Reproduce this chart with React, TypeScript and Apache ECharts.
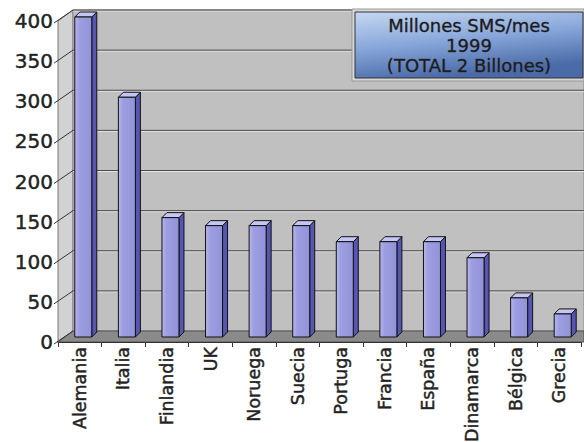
import React, { useEffect, useRef } from "react";
import * as echarts from "echarts";

const categories = ["Alemania", "Italia", "Finlandia", "UK", "Noruega", "Suecia", "Portuga", "Francia", "España", "Dinamarca", "Bélgica", "Grecia"];
const values = [400, 300, 150, 140, 140, 140, 120, 120, 120, 100, 50, 30];
const yTicks = [0, 50, 100, 150, 200, 250, 300, 350, 400];
const legendLines = ["Millones SMS/mes", "1999", "(TOTAL 2 Billones)"];

const DX = 15; // depth offset of back wall
const DY = -11;

export default function App() {
  const ref = useRef<HTMLDivElement>(null);
  useEffect(() => {
    const chart = echarts.init(ref.current!, null, { renderer: "svg" });
    const font = "DejaVu Sans";
    const option: any = {
      animation: false,
      backgroundColor: "#ffffff",
      grid: { left: 58, right: 3, top: 21, bottom: 100, containLabel: false, outerBoundsMode: "none" },
      xAxis: {
        type: "category",
        data: categories,
        axisLine: { show: true, lineStyle: { color: "#111", width: 1 } },
        axisTick: { show: true, length: 5, lineStyle: { color: "#333" } },
        axisLabel: {
          interval: 0, rotate: 90, margin: 5, fontFamily: font, fontSize: 17.5, color: "#222",
          textBorderColor: "#444", textBorderWidth: 0.5,
        },
        splitLine: { show: false },
      },
      yAxis: {
        type: "value",
        min: 0,
        max: 400,
        interval: 50,
        axisLine: { show: true, lineStyle: { color: "#555", width: 1 } },
        axisTick: { show: false },
        axisLabel: {
          margin: 5, fontFamily: font, fontSize: 20, color: "#222",
          textBorderColor: "#444", textBorderWidth: 0.5,
        },
        splitLine: { show: false },
      },
      series: [
        {
          type: "custom",
          clip: false,
          z: 1,
          silent: true,
          data: [[0, 0]],
          renderItem: (params: any, api: any) => {
            const cs = params.coordSys;
            const x0 = cs.x;
            const xr = api.getWidth();
            const yb = api.coord([0, 0])[1];
            const yt = api.coord([0, 400])[1];
            const children: any[] = [];
            children.push({
              type: "polygon",
              shape: { points: [[x0, yb], [x0, yt], [x0 + DX, yt + DY], [x0 + DX, yb + DY]] },
              style: { fill: "#d2d2d2", stroke: "#777", lineWidth: 1 },
            });
            children.push({
              type: "rect",
              shape: { x: x0 + DX, y: yt + DY, width: xr - x0 - DX, height: yb - yt },
              style: { fill: "#c0c0c0", stroke: "#888", lineWidth: 1 },
            });
            children.push({
              type: "polygon",
              shape: { points: [[x0, yb], [x0 + DX, yb + DY], [xr, yb + DY], [xr, yb]] },
              style: { fill: "#8a8a8a", stroke: "#555", lineWidth: 1 },
            });
            yTicks.forEach((t) => {
              const y = api.coord([0, t])[1];
              if (t > 0) {
                children.push({
                  type: "line",
                  shape: { x1: x0 + DX, y1: y + DY + 1, x2: xr, y2: y + DY + 1 },
                  style: { stroke: "#e6e6e6", lineWidth: 1 },
                });
                children.push({
                  type: "line",
                  shape: { x1: x0 + DX, y1: y + DY, x2: xr, y2: y + DY },
                  style: { stroke: "#4a4a4a", lineWidth: 1 },
                });
              }
              children.push({
                type: "line",
                shape: { x1: x0 - 4, y1: y + 2, x2: x0 + DX, y2: y + DY },
                style: { stroke: "#333", lineWidth: 1 },
              });
            });
            return { type: "group", children };
          },
        },
        {
          type: "custom",
          clip: false,
          z: 2,
          data: values.map((v, i) => [i, v]),
          renderItem: (params: any, api: any) => {
            const i = api.value(0);
            const v = api.value(1);
            const p = api.coord([i, v]);
            const b = api.coord([i, 0]);
            const w = 17;
            const d = 5;
            const x = b[0] - 5;
            const yTop = p[1] - 4;
            const yBot = b[1] - 5;
            return {
              type: "group",
              children: [
                {
                  type: "polygon",
                  shape: { points: [[x + w, yTop], [x + w + d, yTop - d], [x + w + d, yBot - d], [x + w, yBot]] },
                  style: { fill: "#5656b2", stroke: "#111", lineWidth: 1 },
                },
                {
                  type: "polygon",
                  shape: { points: [[x, yTop], [x + d, yTop - d], [x + w + d, yTop - d], [x + w, yTop]] },
                  style: { fill: "#c6c6f4", stroke: "#111", lineWidth: 1 },
                },
                {
                  type: "rect",
                  shape: { x, y: yTop, width: w, height: yBot - yTop },
                  style: {
                    fill: new echarts.graphic.LinearGradient(0, 0, 1, 0, [
                      { offset: 0, color: "#b8b8f0" },
                      { offset: 0.25, color: "#9e9ee2" },
                      { offset: 1, color: "#9292d8" },
                    ]),
                    stroke: "#111",
                    lineWidth: 1,
                  },
                },
              ],
            };
          },
        },
      ],
      graphic: [
        {
          type: "rect",
          z: 10,
          shape: { x: 352, y: 9, width: 232, height: 72 },
          style: { fill: "#d8d8d8", stroke: "#999", lineWidth: 1 },
        },
        {
          type: "rect",
          z: 11,
          shape: { x: 355, y: 12, width: 228, height: 66 },
          style: {
            fill: new echarts.graphic.LinearGradient(0, 0, 0.35, 1, [
              { offset: 0, color: "#c6d8f2" },
              { offset: 0.5, color: "#88a7da" },
              { offset: 1, color: "#4a6aa8" },
            ]),
            stroke: "#333",
            lineWidth: 1,
          },
        },
        {
          type: "text",
          z: 12,
          x: 469,
          y: 45,
          style: {
            text: legendLines.join("\n"),
            align: "center",
            verticalAlign: "middle",
            fontFamily: font,
            fontSize: 18,
            lineHeight: 20,
            fill: "#1c1c1c",
            stroke: "#333",
            lineWidth: 0.4,
          },
        },
      ],
    };
    chart.setOption(option);
    return () => chart.dispose();
  }, []);
  return <div ref={ref} style={{ width: 584, height: 442, position: "absolute", left: 0, top: 0 }} />;
}
